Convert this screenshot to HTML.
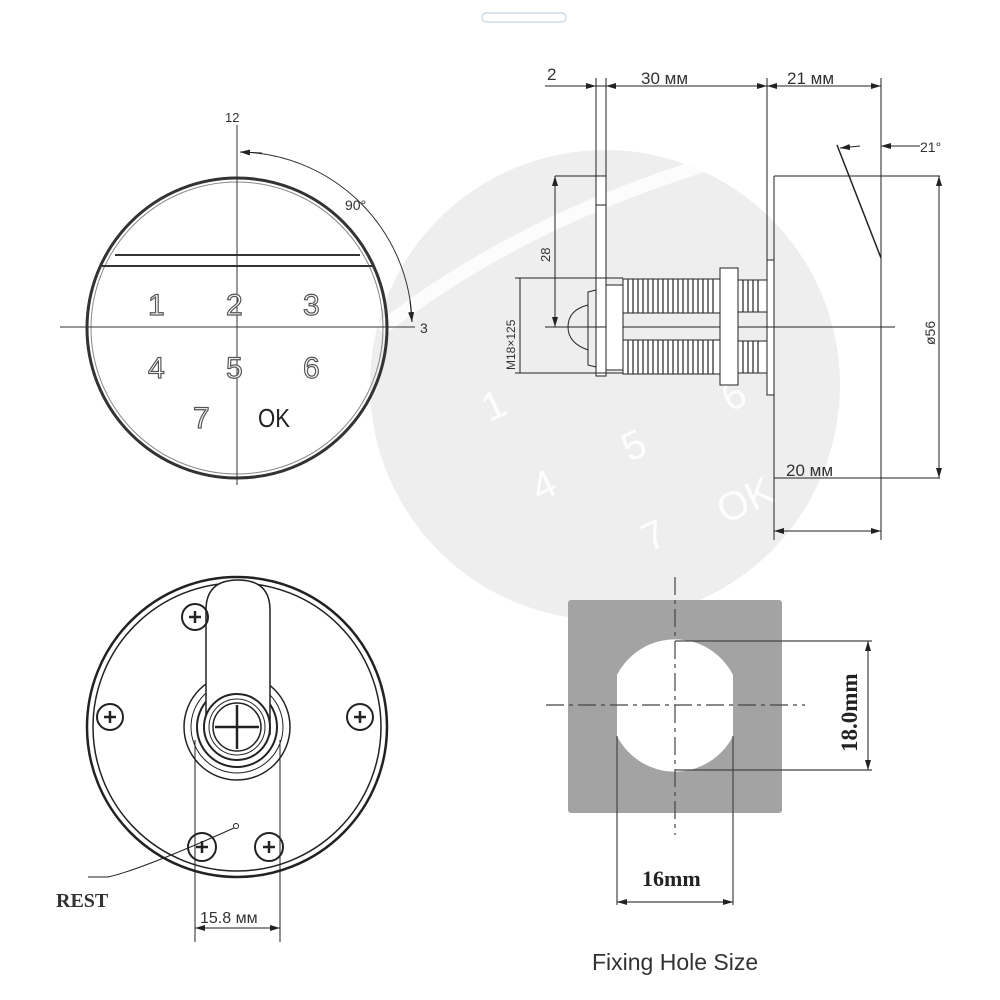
<!DOCTYPE html>
<html><head><meta charset="utf-8"><style>
html,body{margin:0;padding:0;background:#fff;}
svg{display:block;}
.s{font-family:"Liberation Sans",sans-serif;}
.sf{font-family:"Liberation Serif",serif;font-weight:bold;}
</style></head><body>
<svg width="1000" height="1000" viewBox="0 0 1000 1000" xmlns="http://www.w3.org/2000/svg">
<defs>
<marker id="a" markerWidth="10" markerHeight="6" refX="10" refY="3" orient="auto-start-reverse" markerUnits="userSpaceOnUse"><path d="M0,0 L10,3 L0,6 z" fill="#222"/></marker>
</defs>
<!-- watermark -->
<circle cx="605" cy="385" r="235" fill="#eeeeee"/>
<path d="M380 330 Q520 220 720 160" stroke="#fff" stroke-width="14" fill="none" opacity="0.8"/>
<g fill="#fff" font-size="40" opacity="0.9" class="s">
<text x="480" y="420" transform="rotate(-25 490 400)">1</text>
<text x="530" y="500" transform="rotate(-25 540 480)">4</text>
<text x="620" y="460" transform="rotate(-25 630 440)">5</text>
<text x="640" y="550" transform="rotate(-25 650 530)">7</text>
<text x="715" y="520" transform="rotate(-25 730 500)">OK</text>
<text x="720" y="410" transform="rotate(-25 730 390)">6</text>
</g>
<rect x="482" y="13" width="84" height="9" rx="4" fill="none" stroke="#b8c8e0" stroke-width="1"/>

<!-- keypad view -->
<g stroke="#333" fill="none">
<circle cx="237" cy="328" r="150" stroke-width="3"/>
<circle cx="237" cy="328" r="146" stroke-width="1" stroke="#888"/>
<path d="M115 255 L360 255" stroke-width="2"/>
<path d="M102 266 L373 266" stroke-width="2"/>
<line x1="237" y1="125" x2="237" y2="485" stroke-width="1"/>
<line x1="60" y1="327" x2="415" y2="327" stroke-width="1"/>
<path d="M240 152 A175 175 0 0 1 412 322" stroke-width="1"/>
</g>
<path d="M262 153 L240 152" stroke="#222" marker-end="url(#a)"/>
<path d="M410 300 L412 322" stroke="#222" marker-end="url(#a)"/>
<g class="s">
<text x="225" y="122" font-size="13" fill="#333">12</text>
<text x="345" y="210" font-size="14" fill="#333">90°</text>
<text x="420" y="333" font-size="14" fill="#333">3</text>
<g font-size="30" fill="#fff" stroke="#555" stroke-width="1.2">
<text x="148" y="315">1</text><text x="226" y="315">2</text><text x="303" y="315">3</text>
<text x="148" y="378">4</text><text x="226" y="378">5</text><text x="303" y="378">6</text>
<text x="193" y="428">7</text>
</g>
<text x="258" y="427" font-size="26" fill="#222" textLength="32" lengthAdjust="spacingAndGlyphs">OK</text>
</g>

<!-- side view -->
<g stroke="#222" fill="none" stroke-width="1">
<line x1="545" y1="86" x2="881" y2="86"/>
<line x1="596" y1="78" x2="596" y2="330"/>
<line x1="606" y1="78" x2="606" y2="330"/>
<line x1="767" y1="78" x2="767" y2="260"/>
<line x1="881" y1="78" x2="881" y2="540"/>
<rect x="596" y="176" width="10" height="200" fill="#fff"/>
<line x1="596" y1="205" x2="606" y2="205"/>
<path d="M774 176 L881 176 M774 176 L774 540 M774 478 L881 478"/>
<line x1="881" y1="176" x2="940" y2="176"/>
<line x1="881" y1="478" x2="940" y2="478"/>
<path d="M837 145 L881 258" stroke-width="1.5"/>
<rect x="767" y="260" width="7" height="135" fill="#fff"/>
<line x1="555" y1="176" x2="596" y2="176"/>
<line x1="545" y1="327" x2="895" y2="327"/>
<rect x="623" y="279" width="97" height="34" fill="#fff"/>
<rect x="623" y="340" width="97" height="34" fill="#fff"/>
<rect x="738" y="280" width="29" height="32" fill="#fff"/>
<rect x="738" y="341" width="29" height="32" fill="#fff"/>
<rect x="720" y="268" width="18" height="117" fill="#fff"/>
<rect x="606" y="285" width="17" height="85" fill="#fff"/>
<path d="M596 290 L588 292 L588 365 L596 367"/>
<path d="M588 305 Q568 310 568 327 Q568 343 588 350"/>
<line x1="515" y1="278" x2="623" y2="278"/>
<line x1="515" y1="373" x2="623" y2="373"/>
</g>
<g stroke="#333" stroke-width="1.3">
<path d="M628 279 v34 M633 279 v34 M638 279 v34 M643 279 v34 M648 279 v34 M653 279 v34 M658 279 v34 M663 279 v34 M668 279 v34 M673 279 v34 M678 279 v34 M683 279 v34 M688 279 v34 M693 279 v34 M698 279 v34 M703 279 v34 M708 279 v34 M713 279 v34 M743 280 v32 M748 280 v32 M753 280 v32 M758 280 v32"/>
<path d="M628 340 v34 M633 340 v34 M638 340 v34 M643 340 v34 M648 340 v34 M653 340 v34 M658 340 v34 M663 340 v34 M668 340 v34 M673 340 v34 M678 340 v34 M683 340 v34 M688 340 v34 M693 340 v34 M698 340 v34 M703 340 v34 M708 340 v34 M713 340 v34 M743 341 v32 M748 341 v32 M753 341 v32 M758 341 v32"/>
</g>
<g stroke="#222" stroke-width="1" fill="none">
<path d="M570 86 L596 86" marker-end="url(#a)"/>
<path d="M606 86 L767 86" marker-start="url(#a)" marker-end="url(#a)"/>
<path d="M767 86 L881 86" marker-start="url(#a)" marker-end="url(#a)"/>
<path d="M555 176 L555 327" marker-start="url(#a)" marker-end="url(#a)"/>
<path d="M939 176 L939 478" marker-start="url(#a)" marker-end="url(#a)"/>
<path d="M774 531 L881 531" marker-start="url(#a)" marker-end="url(#a)"/>
<path d="M920 146 L881 146" marker-end="url(#a)"/>
<path d="M860 146 L840 148" marker-end="url(#a)"/>
<line x1="520" y1="278" x2="520" y2="373"/>
</g>
<g font-size="17" fill="#333" class="s">
<text x="547" y="80">2</text>
<text x="641" y="84">30 мм</text>
<text x="787" y="84">21 мм</text>
<text x="786" y="476">20 мм</text>
<text x="920" y="152" font-size="14">21°</text>
<text x="550" y="262" font-size="13" transform="rotate(-90 550 262)">28</text>
<text x="515" y="370" font-size="12" transform="rotate(-90 515 370)">M18×125</text>
<text x="935" y="345" font-size="14" transform="rotate(-90 935 345)">ø56</text>
</g>

<!-- back view -->
<g stroke="#222" fill="none">
<circle cx="237" cy="727" r="150" stroke-width="2.5"/>
<circle cx="237" cy="727" r="144" stroke-width="1.5"/>
<circle cx="237" cy="727" r="53" stroke-width="1.5"/>
<circle cx="237" cy="727" r="46" stroke-width="1"/>
<circle cx="237" cy="727" r="40" stroke-width="2"/>
<path d="M206 735 L206 610 Q206 580 238 580 Q270 580 270 610 L270 735" fill="#fff" stroke-width="1.5"/>
<circle cx="237" cy="727" r="33" stroke-width="2" fill="#fff"/>
<circle cx="237" cy="727" r="28" stroke-width="1"/>
<circle cx="237" cy="727" r="24" stroke-width="1.5"/>
<path d="M215 727 H259 M237 705 V749" stroke-width="2.5"/>
<g stroke-width="2">
<circle cx="195" cy="617" r="13"/><circle cx="110" cy="717" r="13"/><circle cx="360" cy="717" r="13"/>
<circle cx="202" cy="847" r="14"/><circle cx="269" cy="847" r="14"/>
</g>
<g stroke-width="2.5">
<path d="M189 617h12M195 611v12 M104 717h12M110 711v12 M354 717h12M360 711v12 M196 847h12M202 841v12 M263 847h12M269 841v12"/>
</g>
<line x1="195" y1="740" x2="195" y2="942" stroke-width="1"/>
<line x1="280" y1="740" x2="280" y2="942" stroke-width="1"/>
<path d="M195 928 L280 928" stroke-width="1" marker-start="url(#a)" marker-end="url(#a)"/>
<circle cx="236" cy="826" r="2.5" stroke-width="1"/>
<path d="M234 828 Q140 870 108 877 L88 877" stroke-width="1"/>
</g>
<text x="56" y="907" class="sf" font-size="20" fill="#333">REST</text>
<text x="200" y="923" class="s" font-size="16" fill="#333">15.8 мм</text>

<!-- fixing hole -->
<rect x="568" y="600" width="214" height="213" rx="3" fill="#a3a3a3"/>
<path d="M617 675 A65 65 0 0 1 733 675 L733 736 A65 65 0 0 1 617 736 Z" fill="#fff"/>
<g stroke="#444" stroke-width="1.2" fill="none">
<line x1="546" y1="705" x2="805" y2="705" stroke-dasharray="18 5 4 5"/>
<line x1="675" y1="577" x2="675" y2="835" stroke-dasharray="18 5 4 5"/>
<line x1="617" y1="736" x2="617" y2="905"/>
<line x1="733" y1="736" x2="733" y2="905"/>
<line x1="675" y1="641" x2="872" y2="641"/>
<line x1="675" y1="770" x2="872" y2="770"/>
<path d="M868 641 L868 770" marker-start="url(#a)" marker-end="url(#a)"/>
<path d="M617 902 L733 902" marker-start="url(#a)" marker-end="url(#a)"/>
</g>
<text x="642" y="886" class="sf" font-size="22" fill="#222">16mm</text>
<text x="857" y="752" class="sf" font-size="23" fill="#222" transform="rotate(-90 857 752)">18.0mm</text>
<text x="592" y="970" class="s" font-size="23" fill="#333">Fixing Hole Size</text>
</svg>
</body></html>
